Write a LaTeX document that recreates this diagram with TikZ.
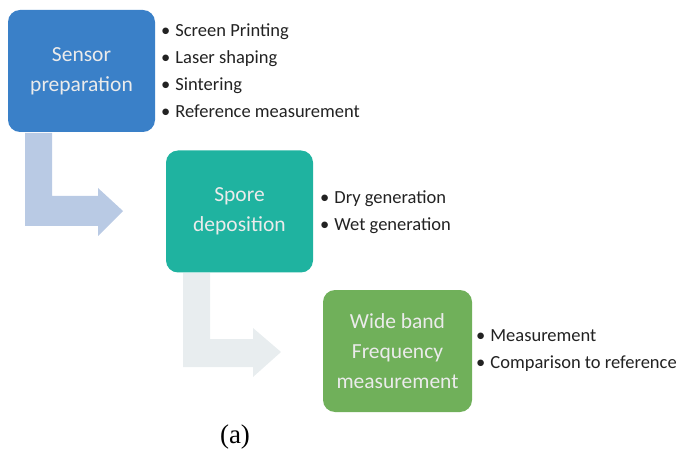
\documentclass[tikz,border=0pt]{standalone}
\usepackage{fontspec}
\setmainfont{Liberation Serif}
\newfontfamily\carlitofont{Carlito}
\definecolor{cblue}{HTML}{3A80C8}
\definecolor{cteal}{HTML}{1FB3A0}
\definecolor{cgreen}{HTML}{70B05A}
\definecolor{arr1}{HTML}{B9CAE4}
\definecolor{arr2}{HTML}{E8EDEF}
\definecolor{btxt}{HTML}{222222}
\tikzset{
  stage/.style={rounded corners=12pt, minimum width=147pt, minimum height=122pt, inner sep=0pt, align=center, text=white!92!black, font=\carlitofont\fontsize{21.5}{30}\selectfont},
  blist/.style={anchor=west, align=left, text=btxt, font=\carlitofont\fontsize{18.5}{27}\selectfont, inner sep=0pt},
}
\begin{document}
\begin{tikzpicture}[x=1pt,y=-1pt]
\useasboundingbox (0,0) rectangle (677,454);
% arrows
\fill[arr1] (25,133) -- (52,133) -- (52,196) -- (98,196) -- (98,188) -- (123,211) -- (98,236) -- (98,226) -- (25,226) -- cycle;
\fill[arr2] (183,273) -- (210,273) -- (210,339) -- (253,339) -- (253,328) -- (281,352) -- (253,377) -- (253,367) -- (183,367) -- cycle;
% boxes
\node[stage, fill=cblue] (s1) at (81.5,71) {Sensor\\preparation};
\node[stage, fill=cteal] (s2) at (239.5,211.5) {Spore\\deposition};
\node[stage, fill=cgreen, minimum width=149pt] (s3) at (397.5,351) {Wide band\\Frequency\\measurement};
% lists
\node[blist] (l1) at (161,71) {\textbullet\hspace{5pt}Screen Printing\\\textbullet\hspace{5pt}Laser shaping\\\textbullet\hspace{5pt}Sintering\\\textbullet\hspace{5pt}Reference measurement};
\node[blist] (l2) at (320,212) {\textbullet\hspace{5pt}Dry generation\\\textbullet\hspace{5pt}Wet generation};
\node[blist] (l3) at (476,350.5) {\textbullet\hspace{5pt}Measurement\\\textbullet\hspace{5pt}Comparison to reference};
\node[font=\fontsize{27}{30}\selectfont] (cap) at (235,437) {(a)};
\end{tikzpicture}
\end{document}
